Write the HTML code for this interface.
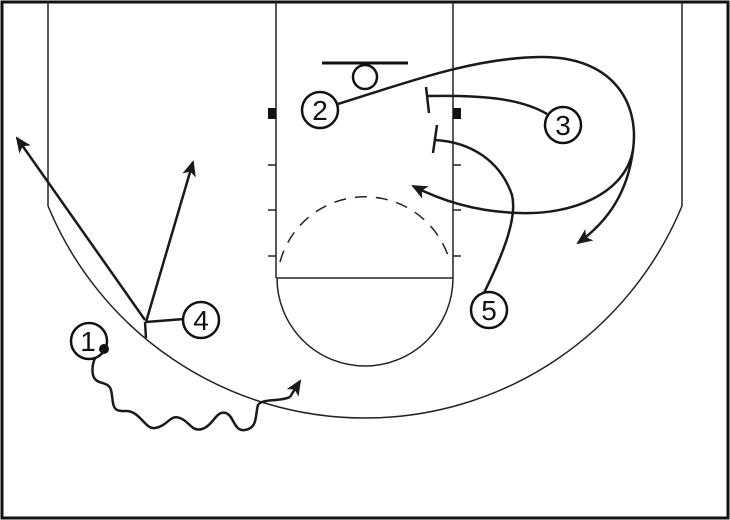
<!DOCTYPE html>
<html><head><meta charset="utf-8"><style>
html,body{margin:0;padding:0;background:#fff;}
svg{display:block;}
text{font-family:"Liberation Sans",sans-serif;font-size:28px;fill:#111;}
</style></head><body>
<svg width="730" height="520" viewBox="0 0 730 520" xmlns="http://www.w3.org/2000/svg">
<defs>
<marker id="ahb" markerWidth="16" markerHeight="14" refX="14" refY="7" orient="auto" markerUnits="userSpaceOnUse" viewBox="0 0 16 14">
<path d="M0,0 L16,7 L0,14 L4,7 Z" fill="#1a1a1a"/>
</marker>
</defs>
<rect x="2" y="2" width="726" height="516" fill="none" stroke="#111" stroke-width="3"/>
<g stroke="#222" stroke-width="1.5" fill="none">
<line x1="48" y1="2" x2="48" y2="206"/>
<line x1="682" y1="2" x2="682" y2="206"/>
<path d="M48,206 A343,343 0 0 0 682,206"/>
<line x1="276" y1="2" x2="276" y2="278"/>
<line x1="453" y1="2" x2="453" y2="278"/>
<line x1="276" y1="278" x2="453" y2="278"/>
<path d="M277,278 A88,88 0 0 0 453,278"/>
<path d="M280,262 A88,88 0 0 1 450,262" stroke-dasharray="12,9"/>
<line x1="268" y1="165" x2="276" y2="165"/><line x1="453" y1="165" x2="461" y2="165"/>
<line x1="268" y1="210" x2="276" y2="210"/><line x1="453" y1="210" x2="461" y2="210"/>
<line x1="268" y1="256" x2="276" y2="256"/><line x1="453" y1="256" x2="461" y2="256"/>
</g>
<rect x="268" y="108" width="8" height="11" fill="#111"/>
<rect x="453" y="108" width="8" height="11" fill="#111"/>
<line x1="322" y1="63" x2="408" y2="63" stroke="#111" stroke-width="3"/>
<circle cx="365" cy="77" r="12" fill="none" stroke="#111" stroke-width="2.5"/>

<g stroke="#1a1a1a" stroke-width="2.5" fill="none">
<path d="M338,104 C400,85 470,58 540,57 C610,56 640,100 633,150 C625,195 570,215 520,213 C475,212 440,200 413,186" marker-end="url(#ahb)"/>
<path d="M633,150 C628,190 610,220 578,243" marker-end="url(#ahb)"/>
<path d="M547,114 C520,98 480,95 428,96"/>
<line x1="426" y1="87" x2="429" y2="113"/>
<path d="M484,293 C500,260 518,220 512,195 C500,160 470,142 435,140"/>
<line x1="437" y1="125" x2="433" y2="153"/>
<line x1="184" y1="319" x2="146" y2="322"/>
<line x1="146" y1="322" x2="193" y2="162" marker-end="url(#ahb)"/>
<line x1="145" y1="320" x2="17" y2="138" marker-end="url(#ahb)"/>
<line x1="145" y1="322" x2="146" y2="338"/>
<path d="M95,358 C92,365 92,370 93,375 C96,386 108,380 111,390 C114,402 110,412 125,411 C140,410 145,430 155,428 C168,426 170,414 180,418 C190,422 192,432 202,429 C214,425 216,410 226,413 C234,416 234,432 245,430 C258,428 255,415 258,405 C262,398 280,402 290,397"/>
<line x1="290" y1="397" x2="300" y2="381" marker-end="url(#ahb)"/>
</g>

<g stroke="#111" stroke-width="2.5" fill="#fff">
<circle cx="89" cy="341" r="18"/>
<circle cx="320" cy="110" r="18"/>
<circle cx="563" cy="125" r="18"/>
<circle cx="201" cy="320" r="18"/>
<circle cx="489" cy="310" r="18"/>
</g>
<circle cx="104" cy="349" r="5" fill="#111"/>
<g text-anchor="middle">
<text x="88" y="351">1</text>
<text x="320" y="120">2</text>
<text x="563" y="135">3</text>
<text x="201" y="330">4</text>
<text x="489" y="320">5</text>
</g>
</svg>
</body></html>
